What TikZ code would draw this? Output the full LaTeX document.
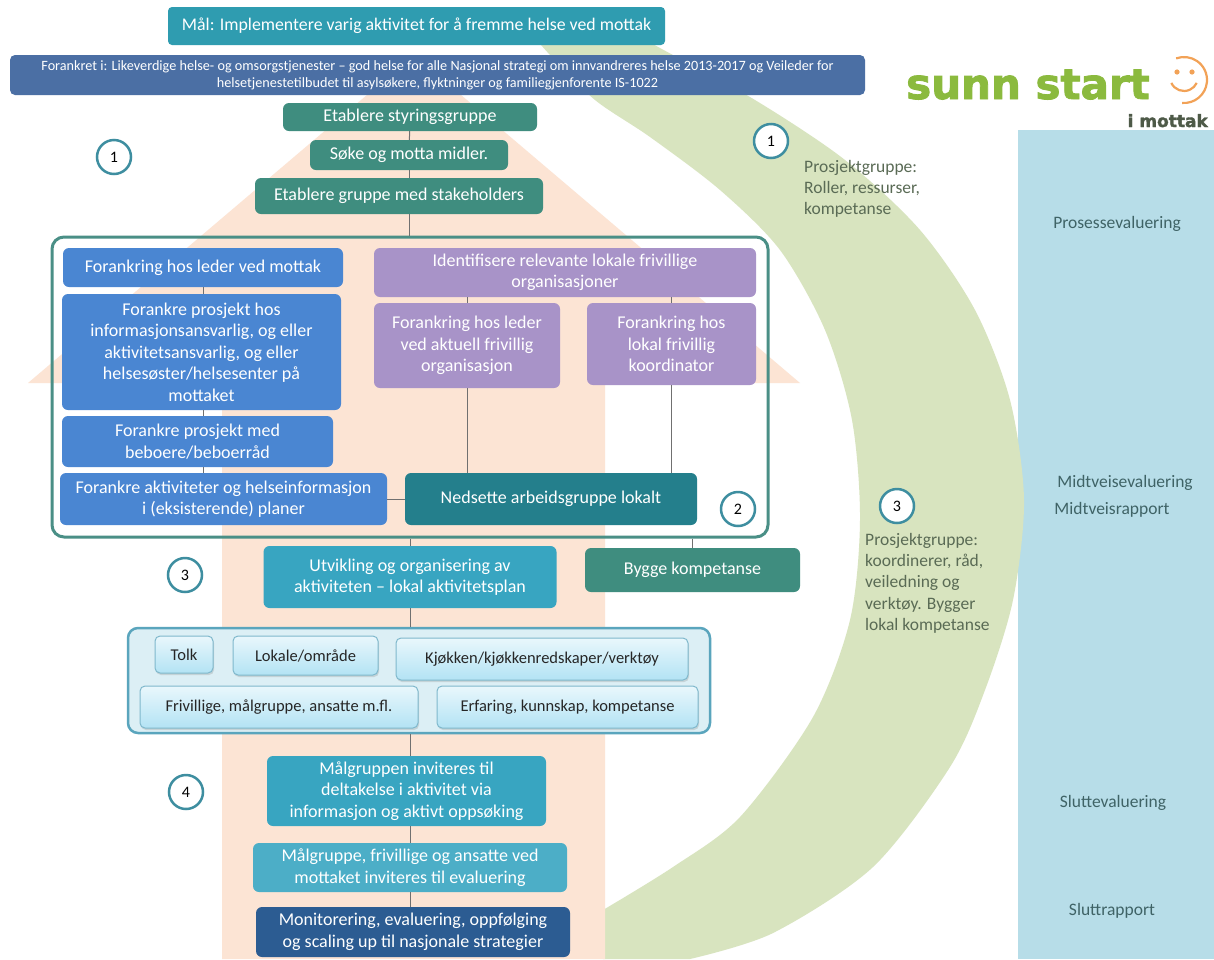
\documentclass[tikz,border=0pt]{standalone}
\usepackage{fontspec}
\setmainfont{Carlito}
\newfontfamily\logofont{DejaVu Sans Bold}[FakeBold=2]
\usetikzlibrary{shadows}
\definecolor{maalc}{HTML}{2F9CB0}
\definecolor{forankc}{HTML}{4B6FA4}
\definecolor{styrc}{HTML}{3F8D7F}
\definecolor{bluec}{HTML}{4A86D2}
\definecolor{purplec}{HTML}{A893C8}
\definecolor{nedsc}{HTML}{247F8C}
\definecolor{utvc}{HTML}{38A5C1}
\definecolor{monc}{HTML}{2C5C92}
\definecolor{contc}{HTML}{4A8F86}
\definecolor{ressfill}{HTML}{DCEFF5}
\definecolor{ressline}{HTML}{5AA5BD}
\definecolor{itemline}{HTML}{7FB8CC}
\definecolor{itemtop}{HTML}{E9F7FC}
\definecolor{itembot}{HTML}{B3E3F4}
\definecolor{peach}{HTML}{FCE4D4}
\definecolor{arcgreen}{HTML}{D8E4BF}
\definecolor{panelc}{HTML}{B7DDE8}
\definecolor{circc}{HTML}{3E8EA0}
\definecolor{linkc}{HTML}{707070}
\definecolor{sidetext}{HTML}{5A6B55}
\definecolor{paneltext}{HTML}{3F6366}
\definecolor{logogreen}{HTML}{8BBA3E}
\definecolor{smilec}{HTML}{F2A257}
\definecolor{mottakc}{HTML}{4E5A48}
\tikzset{
  stepbox/.style={rounded corners=6pt, text=white, align=center, inner sep=0pt,
    font=\fontsize{18}{21.5}\selectfont},
  itembox/.style={rounded corners=5pt, draw=itemline, line width=1pt, top color=itemtop,
    bottom color=itembot, text=black!85, inner sep=0pt, font=\fontsize{16.5}{20}\selectfont,
    drop shadow={opacity=0.25, shadow xshift=1pt, shadow yshift=-2pt}},
  numcirc/.style={circle, draw=circc, line width=2.5pt, fill=white, minimum size=34pt, inner sep=0pt,
    font=\fontsize{16}{16}\selectfont},
  link/.style={draw=linkc, line width=1pt},
  sidenote/.style={align=left, anchor=north west, inner sep=0pt, text=sidetext,
    font=\fontsize{17.5}{21.3}\selectfont},
  panelnote/.style={text=paneltext, inner sep=0pt, font=\fontsize{17.5}{21}\selectfont}
}
\begin{document}
\begin{tikzpicture}[x=1pt, y=-1pt]
\useasboundingbox (0,0) rectangle (1214,959);
\fill[white] (0,0) rectangle (1214,959);
\fill[panelc] (1018,130) rectangle (1214,959);
\fill[arcgreen] plot[smooth] coordinates {(610,20) (660,48) (755,100) (845,160) (920,230) (975,310) (1010,400) (1024,500) (1013,600) (985,690) (950,767) (873,867) (773,933) (690,959)}
  -- (603,959) -- plot[smooth] coordinates {(603,910) (673,867) (740,817) (813,717) (850,620) (860,520) (852,420) (825,330) (780,250) (720,190) (650,137) (595,100) (550,55) (520,20)} -- cycle;
\fill[peach] (222,959) -- (222,383) -- (28,383) -- (414,55) -- (800,383) -- (605,383) -- (605,959) -- cycle;

\node[stepbox, fill=maalc, rounded corners=4pt, minimum width=497, minimum height=38, font=\fontsize{17.8}{20}\selectfont] (maal) at (416.5,26) {Mål: Implementere varig aktivitet for å fremme helse ved mottak};
\node[stepbox, fill=forankc, rounded corners=5pt, minimum width=855, minimum height=40, font=\fontsize{14.2}{17}\selectfont] (forank) at (437.5,75) {Forankret i: Likeverdige helse- og omsorgstjenester -- god helse for alle Nasjonal strategi om innvandreres helse 2013-2017 og Veileder for\\helsetjenestetilbudet til asylsøkere, flyktninger og familiegjenforente IS-1022};

\node[stepbox, fill=styrc, minimum width=254, minimum height=28] (styr) at (410,117) {Etablere styringsgruppe};
\node[stepbox, fill=styrc, minimum width=198, minimum height=30] (midler) at (409,155) {Søke og motta midler.};
\node[stepbox, fill=styrc, minimum width=288, minimum height=36] (stake) at (399,196) {Etablere gruppe med stakeholders};

\node[draw=contc, line width=3pt, rounded corners=12pt, minimum width=716, minimum height=300] (cont) at (410,387) {};
\node[stepbox, fill=bluec, minimum width=280, minimum height=39] (leder) at (203,267.5) {Forankring hos leder ved mottak};
\node[stepbox, fill=bluec, minimum width=279, minimum height=116] (infoans) at (201.5,352) {Forankre prosjekt hos\\informasjonsansvarlig, og eller\\aktivitetsansvarlig, og eller\\helsesøster/helsesenter på\\mottaket};
\node[stepbox, fill=bluec, minimum width=271, minimum height=51] (beboer) at (197.5,441.5) {Forankre prosjekt med\\beboere/beboerråd};
\node[stepbox, fill=bluec, minimum width=327, minimum height=52] (planer) at (223.5,499) {Forankre aktiviteter og helseinformasjon\\i (eksisterende) planer};
\node[stepbox, fill=purplec, minimum width=382, minimum height=49] (ident) at (565,272.5) {Identifisere relevante lokale frivillige\\organisasjoner};
\node[stepbox, fill=purplec, minimum width=186, minimum height=85] (frivleder) at (467,345.5) {Forankring hos leder\\ved aktuell frivillig\\organisasjon};
\node[stepbox, fill=purplec, minimum width=169, minimum height=82] (koord) at (671.5,344) {Forankring hos\\lokal frivillig\\koordinator};
\node[stepbox, fill=nedsc, minimum width=292, minimum height=52] (nedsette) at (551,499) {Nedsette arbeidsgruppe lokalt};
\node[numcirc] (c2) at (738,509) {2};

\node[stepbox, fill=utvc, minimum width=293, minimum height=62] (utvikling) at (410,577) {Utvikling og organisering av\\aktiviteten -- lokal aktivitetsplan};
\node[stepbox, fill=styrc, minimum width=215, minimum height=44] (bygge) at (692.5,570) {Bygge kompetanse};

\node[draw=ressline, fill=ressfill, line width=2.5pt, rounded corners=10pt, minimum width=582, minimum height=105] (ress) at (419,680.5) {};
\node[itembox, minimum width=58, minimum height=37] (tolk) at (184,654.5) {Tolk};
\node[itembox, minimum width=145, minimum height=39] (lokale) at (305.5,655.5) {Lokale/område};
\node[itembox, minimum width=292, minimum height=42] (kjokken) at (542,659) {Kjøkken/kjøkkenredskaper/verktøy};
\node[itembox, minimum width=278, minimum height=42] (frivillige) at (279,707) {Frivillige, målgruppe, ansatte m.fl.};
\node[itembox, minimum width=261, minimum height=42] (erfaring) at (567.5,707) {Erfaring, kunnskap, kompetanse};

\node[stepbox, fill=utvc, minimum width=279, minimum height=70] (invit) at (406.5,791) {Målgruppen inviteres til\\deltakelse i aktivitet via\\informasjon og aktivt oppsøking};
\node[stepbox, fill=utvc!90!white, minimum width=314, minimum height=49] (evalinv) at (410,867.5) {Målgruppe, frivillige og ansatte ved\\mottaket inviteres til evaluering};
\node[stepbox, fill=monc, minimum width=314, minimum height=50] (monitor) at (413,932) {Monitorering, evaluering, oppfølging\\og scaling up til nasjonale strategier};

\draw[link] (styr) -- (midler);
\draw[link] (midler) -- (stake.north -| midler);
\draw[link] (stake.south -| midler) -- (cont.north -| midler);
\draw[link] (leder) -- (infoans.north -| leder);
\draw[link] (infoans.south -| leder) -- (beboer.north -| leder);
\draw[link] (beboer.south -| leder) -- (planer.north -| leder);
\draw[link] (ident.south -| frivleder) -- (frivleder);
\draw[link] (ident.south -| koord) -- (koord);
\draw[link] (frivleder) -- (nedsette.north -| frivleder);
\draw[link] (koord) -- (nedsette.north -| koord);
\draw[link] (planer) -- (nedsette);
\draw[link] (cont.south -| utvikling) -- (utvikling);
\draw[link] (cont.south -| bygge) -- (bygge);
\draw[link] (utvikling) -- (ress.north -| utvikling);
\draw[link] (ress.south -| utvikling) -- (invit.north -| utvikling);
\draw[link] (invit.south -| utvikling) -- (evalinv);
\draw[link] (evalinv) -- (monitor.north -| evalinv);

\node[numcirc] (c1l) at (114,157) {1};
\node[numcirc] (c1r) at (771,141) {1};
\node[numcirc] (c3l) at (185,575) {3};
\node[numcirc] (c3r) at (897,506) {3};
\node[numcirc] (c4) at (186,792) {4};

\node[sidenote] (proj1) at (804,160) {Prosjektgruppe:\\Roller, ressurser,\\kompetanse};
\node[sidenote] (proj3) at (865,533) {Prosjektgruppe:\\koordinerer, råd,\\veiledning og\\verktøy. Bygger\\lokal kompetanse};

\node[panelnote] (proses) at (1117,224) {Prosessevaluering};
\node[panelnote] (midtev) at (1125,483) {Midtveisevaluering};
\node[panelnote] (midtrap) at (1112,510) {Midtveisrapport};
\node[panelnote] (sluttev) at (1113,803) {Sluttevaluering};
\node[panelnote] (sluttrap) at (1112,911) {Sluttrapport};

\node[anchor=base west, inner sep=0pt, text=logogreen, font=\logofont\fontsize{42}{42}\selectfont] (logo) at (906,99) {sunn start};
\draw[smilec, line width=2.2pt] (1184,80) ++(-95:23pt) arc[start angle=-95, end angle=110, radius=23pt];
\fill[smilec] (1177,72) circle[radius=2.6pt] (1192,72) circle[radius=2.6pt];
\draw[smilec, line width=2.2pt] (1184,77) ++(205:14pt) arc[start angle=205, end angle=335, radius=14pt];
\node[anchor=base east, inner sep=0pt, text=mottakc, font=\logofont\fontsize{17}{17}\selectfont] (mottak) at (1208,127) {i mottak};
\end{tikzpicture}
\end{document}
